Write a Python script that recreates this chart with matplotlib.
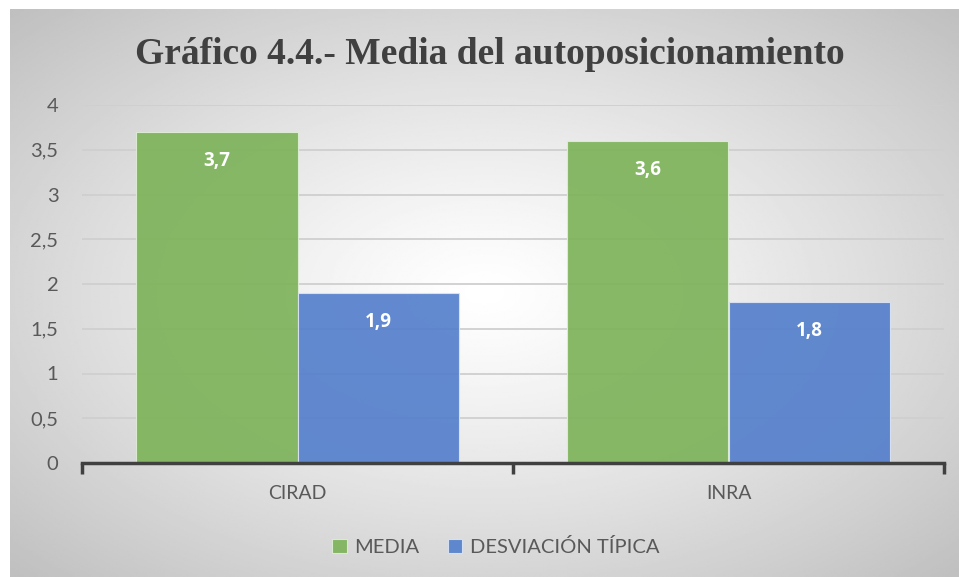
import matplotlib
matplotlib.use("Agg")
import matplotlib.pyplot as plt
import numpy as np

categories = ["CIRAD", "INRA"]
media = [3.7, 3.6]
desviacion = [1.9, 1.8]
labels_media = ["3,7", "3,6"]
labels_desv = ["1,9", "1,8"]
yticks = [0, 0.5, 1, 1.5, 2, 2.5, 3, 3.5, 4]
ytick_labels = ["0", "0,5", "1", "1,5", "2", "2,5", "3", "3,5", "4"]

GREEN = "#7db35a"
BLUE = "#5580cc"
TXT = "#595959"

fig = plt.figure(figsize=(9.59, 5.77), dpi=100)
fig.patch.set_facecolor("white")

# radial gradient background
bg = fig.add_axes([10 / 959, 0, 1 - 10 / 959, 1 - 9 / 577])
yy, xx = np.mgrid[-1:1:300j, -1:1:500j]
r = np.sqrt(xx ** 2 + yy ** 2) / np.sqrt(2)
bg.imshow(1 - 0.25 * r ** 1.2, cmap="gray", vmin=0, vmax=1, aspect="auto",
          extent=[0, 1, 0, 1], interpolation="bilinear")
bg.set_axis_off()

ax = fig.add_axes([82 / 959, 1 - 463 / 577, 862 / 959, 358 / 577])
ax.set_facecolor("none")
x = np.arange(len(categories))
w = 0.374
b1 = ax.bar(x - w / 2, media, w, color=GREEN, alpha=0.92, edgecolor="#dfeed6",
            linewidth=0.8, label="MEDIA", zorder=2)
b2 = ax.bar(x + w / 2, desviacion, w, color=BLUE, alpha=0.92, edgecolor="#dbe4f5",
            linewidth=0.8, label="DESVIACIÓN TÍPICA", zorder=2)
for bars, labs in ((b1, labels_media), (b2, labels_desv)):
    for rect, lab in zip(bars, labs):
        ax.annotate(lab, (rect.get_x() + rect.get_width() / 2, rect.get_height()),
                    xytext=(0, -21), textcoords="offset points", ha="center",
                    va="center", color="white", fontsize=13.5, fontweight="bold",
                    family="Open Sans", zorder=4)

ax.set_xlim(-0.5, 1.5)
ax.set_ylim(0, 4)
ax.set_yticks(yticks)
ax.set_yticklabels(ytick_labels, family="Lato", fontsize=14.5, color=TXT)
ax.yaxis.grid(True, color="#cfcfcf", linewidth=1.3, zorder=1)
ax.set_axisbelow(True)
ax.tick_params(axis="y", length=0, pad=17)
for s in ("top", "right", "left"):
    ax.spines[s].set_visible(False)
ax.spines["bottom"].set_color("#404040")
ax.spines["bottom"].set_linewidth(2.5)
ax.spines["bottom"].set_zorder(5)
ax.set_xticks([-0.5, 0.5, 1.5])
ax.set_xticklabels([])
ax.tick_params(axis="x", length=8, width=2.5, color="#404040")
ax.set_xticks(x, minor=True)
ax.set_xticklabels(categories, minor=True, family="Lato", fontsize=14, color=TXT)
ax.tick_params(axis="x", which="minor", length=0, pad=16)

fig.text(490 / 959, 1 - 55 / 577, "Gráfico 4.4.- Media del autoposicionamiento",
         ha="center", va="center", family="Liberation Serif", fontweight="bold",
         fontsize=27, color="#404040")

fig.legend(handles=[b1, b2], loc="center", bbox_to_anchor=(496 / 959, 1 - 547 / 577),
           ncol=2, frameon=False, prop={"family": "Lato", "size": 14.5},
           labelcolor=TXT, handlelength=0.7, handleheight=0.7, handletextpad=0.4,
           columnspacing=1.4)

fig.savefig("out.png", dpi=100)
